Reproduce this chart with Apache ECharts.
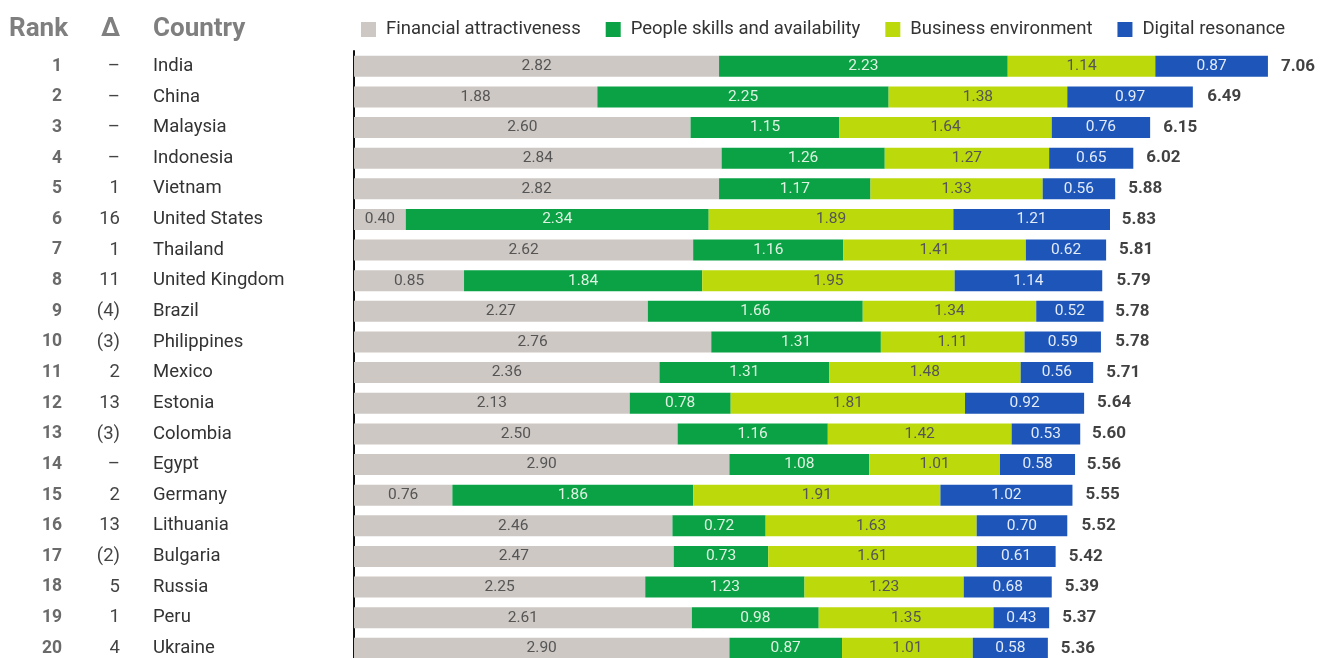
<!DOCTYPE html>
<html>
<head>
<meta charset="utf-8">
<script src="https://cdn.jsdelivr.net/npm/echarts@6/dist/echarts.min.js"></script>
<style>
  html, body { margin: 0; padding: 0; background: #fff; overflow: hidden; }
</style>
</head>
<body>
<div id="myChart" style="width:1321px;height:672px"></div>
<script>
// chart data
const countries = ['India', 'China', 'Malaysia', 'Indonesia', 'Vietnam', 'United States', 'Thailand',
  'United Kingdom', 'Brazil', 'Philippines', 'Mexico', 'Estonia', 'Colombia', 'Egypt', 'Germany',
  'Lithuania', 'Bulgaria', 'Russia', 'Peru', 'Ukraine'];
const ranks = ['1', '2', '3', '4', '5', '6', '7', '8', '9', '10', '11', '12', '13', '14', '15', '16', '17', '18', '19', '20'];
const deltas = ['–', '–', '–', '–', '1', '16', '1', '11', '(4)', '(3)', '2', '13', '(3)', '–', '2', '13', '(2)', '5', '1', '4'];
const financial = [2.82, 1.88, 2.60, 2.84, 2.82, 0.40, 2.62, 0.85, 2.27, 2.76, 2.36, 2.13, 2.50, 2.90, 0.76, 2.46, 2.47, 2.25, 2.61, 2.90];
const people = [2.23, 2.25, 1.15, 1.26, 1.17, 2.34, 1.16, 1.84, 1.66, 1.31, 1.31, 0.78, 1.16, 1.08, 1.86, 0.72, 0.73, 1.23, 0.98, 0.87];
const business = [1.14, 1.38, 1.64, 1.27, 1.33, 1.89, 1.41, 1.95, 1.34, 1.11, 1.48, 1.81, 1.42, 1.01, 1.91, 1.63, 1.61, 1.23, 1.35, 1.01];
const digital = [0.87, 0.97, 0.76, 0.65, 0.56, 1.21, 0.62, 1.14, 0.52, 0.59, 0.56, 0.92, 0.53, 0.58, 1.02, 0.70, 0.61, 0.68, 0.43, 0.58];
const totals = [7.06, 6.49, 6.15, 6.02, 5.88, 5.83, 5.81, 5.79, 5.78, 5.78, 5.71, 5.64, 5.60, 5.56, 5.55, 5.52, 5.42, 5.39, 5.37, 5.36];

var chartDom = document.getElementById('myChart');
var myChart = echarts.init(chartDom);
var font = 'Roboto, "Noto Sans", sans-serif';

function barSeries(name, data, color, textColor) {
    return {
        name: name,
        type: 'bar',
        stack: 'score',
        barWidth: 21,
        data: data,
        itemStyle: { color: color },
        label: {
            show: true,
            position: 'inside',
            color: textColor,
            fontSize: 15.5,
            fontFamily: font,
            formatter: function (p) { return p.value.toFixed(2); }
        },
        emphasis: { disabled: true }
    };
}

function sideAxis(data, margin, align, style) {
    return {
        type: 'category',
        inverse: true,
        data: data,
        position: 'left',
        axisLine: { show: false },
        axisTick: { show: false },
        axisLabel: Object.assign({ margin: margin, align: align, fontFamily: font }, style)
    };
}

var option = {
    animation: false,
    backgroundColor: '#fff',
    textStyle: { fontFamily: font },
    graphic: [
        { type: 'text', left: 9, top: 16, style: { text: 'Rank', fontSize: 26, fontWeight: 'bold', fill: '#7f7f7f', fontFamily: font } },
        { type: 'text', left: 101, top: 16, style: { text: 'Δ', fontSize: 26, fontWeight: 'bold', fill: '#7f7f7f', fontFamily: font } },
        { type: 'text', left: 153, top: 16, style: { text: 'Country', fontSize: 26, fontWeight: 'bold', fill: '#7f7f7f', fontFamily: font } }
    ],
    legend: {
        data: ['Financial attractiveness', 'People skills and availability', 'Business environment', 'Digital resonance'],
        left: 356,
        top: 15,
        icon: 'rect',
        itemWidth: 15,
        itemHeight: 15,
        itemGap: 25,
        selectedMode: false,
        textStyle: { fontSize: 18.5, color: '#333', fontFamily: font, padding: [0, 0, 0, 5] }
    },
    grid: { left: 354, top: 51, width: 945, height: 612.6 },
    xAxis: {
        type: 'value',
        min: 0,
        max: 7.3,
        show: false
    },
    yAxis: [
        {
            type: 'category',
            inverse: true,
            data: countries,
            axisLine: { show: true, lineStyle: { color: '#111', width: 2 } },
            axisTick: { show: false },
            axisLabel: { margin: 201, align: 'left', fontSize: 18.5, color: '#333', fontFamily: font }
        },
        sideAxis(ranks, 292, 'right', { fontSize: 17.5, fontWeight: 'bold', color: '#6a6a6a' }),
        sideAxis(deltas, 234, 'right', { fontSize: 18.5, color: '#444' })
    ],
    series: [
        barSeries('Financial attractiveness', financial, '#cdc8c4', '#555'),
        barSeries('People skills and availability', people, '#0aa244', '#dff2e2'),
        barSeries('Business environment', business, '#bcd90c', '#555'),
        barSeries('Digital resonance', digital, '#1d56b8', '#e3ebf8'),
        {
            name: 'Total',
            type: 'scatter',
            symbolSize: 0,
            data: totals,
            label: {
                show: true,
                position: 'right',
                distance: 13,
                color: '#111',
                fontSize: 17,
                fontWeight: 'bold',
                fontFamily: font,
                formatter: function (p) { return p.value.toFixed(2); }
            },
            emphasis: { disabled: true },
            z: 5
        }
    ]
};

option && myChart.setOption(option);
</script>
</body>
</html>
